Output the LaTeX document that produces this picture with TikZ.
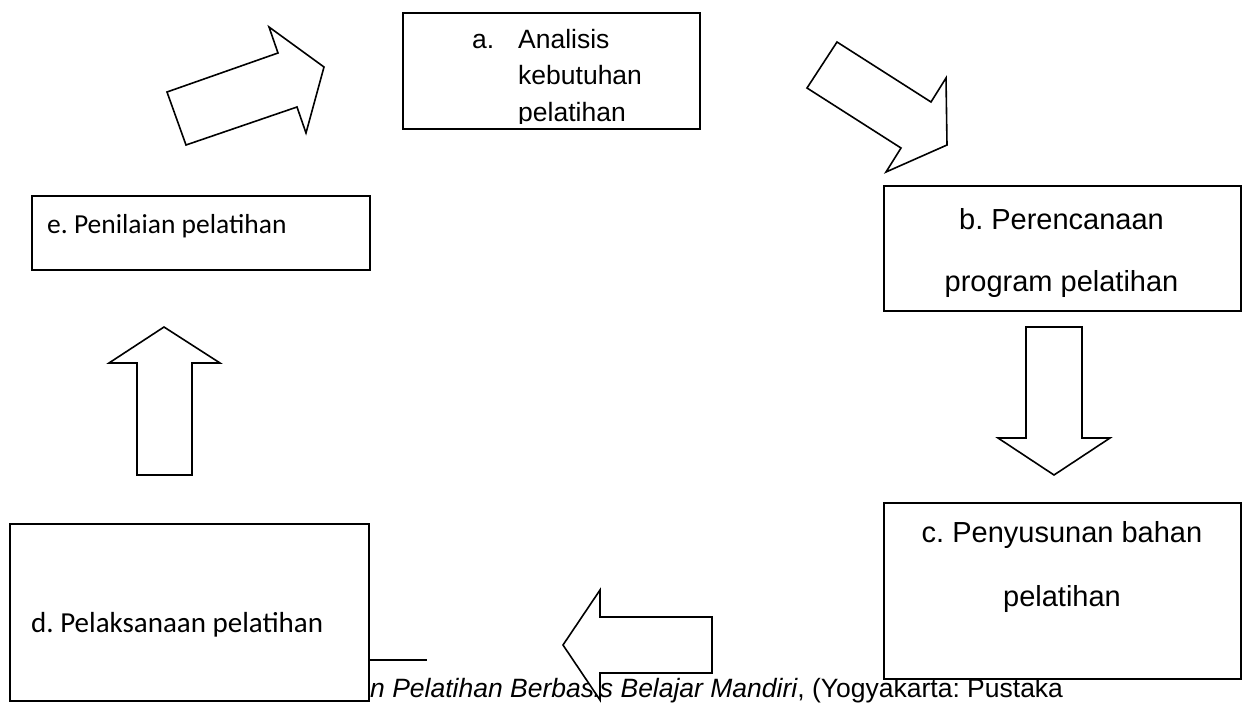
\documentclass[tikz,border=0pt]{standalone}
\usepackage{fontspec}
\setmainfont{Liberation Sans}
\newfontfamily\calibri{Carlito}
\frenchspacing
\begin{document}
\begin{tikzpicture}[x=1pt,y=-1pt,
  box/.style={draw=black, line width=1.6pt, fill=white, inner sep=0pt, anchor=north west},
  blockarrow/.style={draw=black, line width=1.6pt, fill=white, line join=miter},
  arialA/.style={font=\fontsize{26.5}{35}\selectfont, inner sep=0pt, anchor=base west},
  arialB/.style={font=\fontsize{29}{35}\selectfont, inner sep=0pt, anchor=base},
  calE/.style={font=\calibri\fontsize{27.5}{34}\selectfont, inner sep=0pt, anchor=base west},
  calD/.style={font=\calibri\fontsize{29}{34}\selectfont, inner sep=0pt, anchor=base west}]

\useasboundingbox (0,0) rectangle (1245,704);

% footnote text (partly hidden)
\node[arialA] (fn) at (370,697) {\textit{n Pelatihan Berbasis Belajar Mandiri}, (Yogyakarta: Pustaka};

% block arrows
\draw[blockarrow] (186,145) -- (167,92) -- (278,53) -- (269,27) -- (324,67) -- (306,133) -- (297,107) -- cycle;
\draw[blockarrow] (807,88) -- (837,42) -- (931,102) -- (946,78) -- (947,145) -- (886,172) -- (901,148) -- cycle;
\draw[blockarrow] (1026,327) -- (1082,327) -- (1082,438) -- (1110,438) -- (1054,475) -- (998,438) -- (1026,438) -- cycle;
\draw[blockarrow] (712,617) -- (712,673) -- (600,673) -- (600,700) -- (563,645) -- (600,590) -- (600,617) -- cycle;
\draw[blockarrow] (137,475) -- (137,363) -- (109,363) -- (164,327) -- (220,363) -- (192,363) -- (192,475) -- cycle;

% boxes
\node[box, minimum width=297pt, minimum height=116pt] (a) at (402,12) {};
\node[box, minimum width=357pt, minimum height=125pt] (b) at (883,185) {};
\node[box, minimum width=357pt, minimum height=176pt] (c) at (883,502) {};
\node[box, minimum width=359pt, minimum height=177pt] (d) at (9,523) {};
\node[box, minimum width=338pt, minimum height=74pt] (e) at (31,195) {};

% footnote separator
\coordinate (sepEnd) at (427,660);
\draw[line width=1.6pt] (d.east |- sepEnd) -- (sepEnd);

% texts (box a text is cut off at the bottom)
\coordinate (aclip) at (699,123);
\begin{scope}
\clip (a.north west) rectangle (aclip);
\node[arialA] (a1) at (472,48) {a.};
\node[arialA] (a2) at (518,48) {Analisis};
\node[arialA] (a3) at (518,84) {kebutuhan};
\node[arialA] (a4) at (518,121) {pelatihan};
\end{scope}

\node[arialB] (b1) at (1061.5,229) {b. Perencanaan};
\node[arialB] (b2) at (1061.5,291) {program pelatihan};
\node[arialB] (c1) at (1062,542) {c. Penyusunan bahan};
\node[arialB] (c2) at (1062,606) {pelatihan};
\node[calD] (d1) at (31,632) {d. Pelaksanaan pelatihan};
\node[calE] (e1) at (47,233) {e. Penilaian pelatihan};
\end{tikzpicture}
\end{document}
